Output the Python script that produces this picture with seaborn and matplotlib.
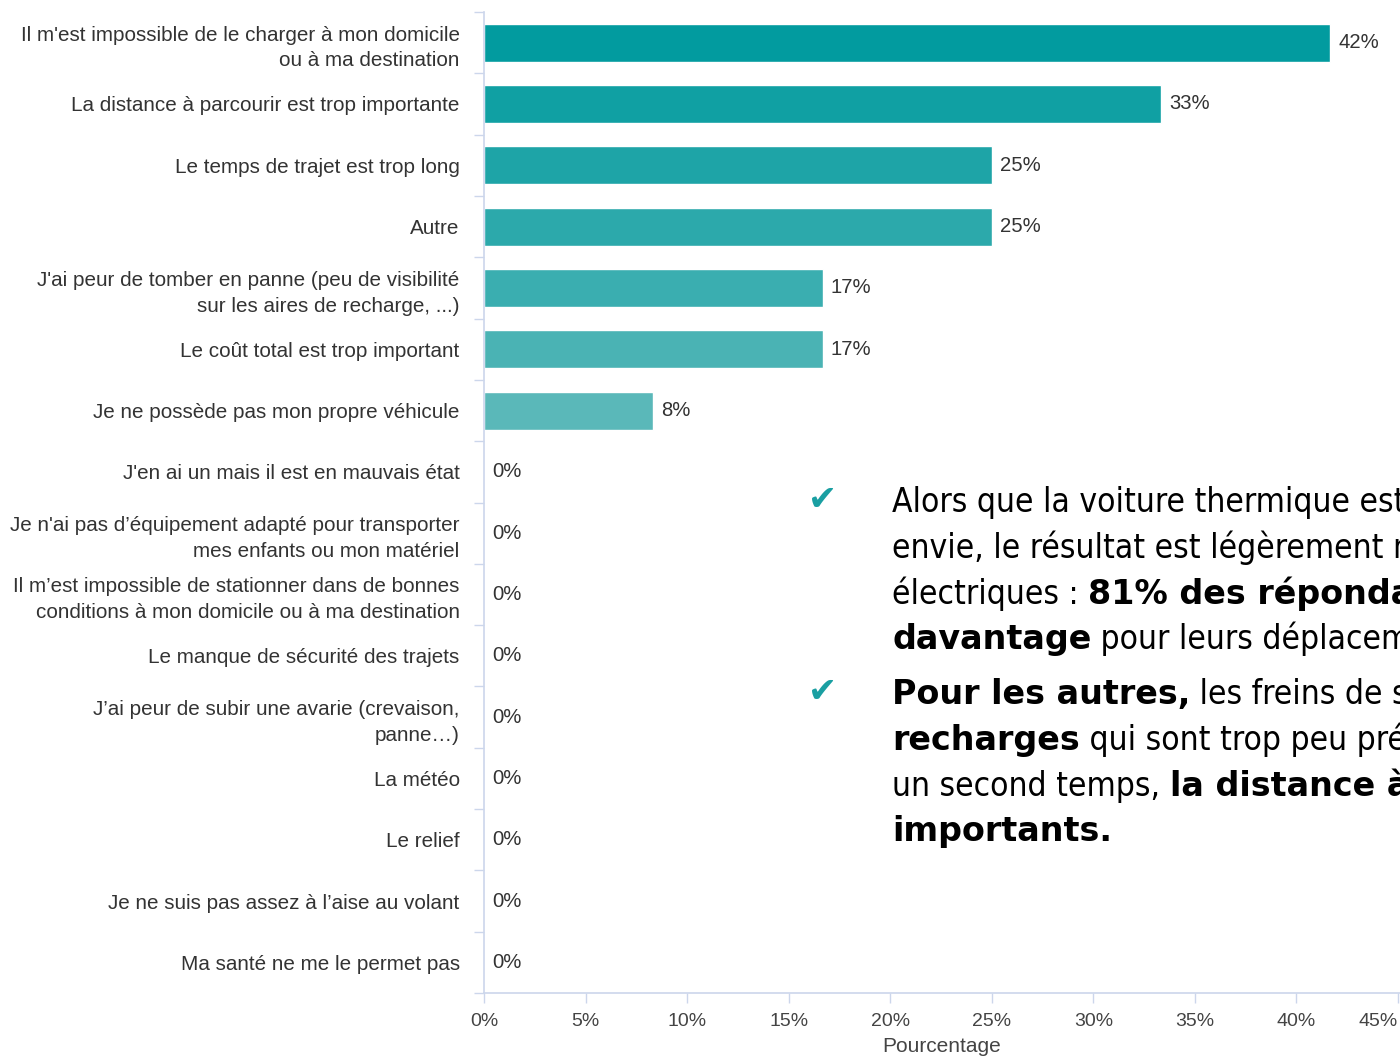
import numpy as np
import pandas as pd
import seaborn as sns
import matplotlib.pyplot as plt


categories = [
    "Il m'est impossible de le charger à mon domicile\nou à ma destination",
    "La distance à parcourir est trop importante",
    "Le temps de trajet est trop long",
    "Autre",
    "J'ai peur de tomber en panne (peu de visibilité\nsur les aires de recharge, ...)",
    "Le coût total est trop important",
    "Je ne possède pas mon propre véhicule",
    "J'en ai un mais il est en mauvais état",
    "Je n'ai pas d’équipement adapté pour transporter\nmes enfants ou mon matériel",
    "Il m’est impossible de stationner dans de bonnes\nconditions à mon domicile ou à ma destination",
    "Le manque de sécurité des trajets",
    "J’ai peur de subir une avarie (crevaison,\npanne…)",
    "La météo",
    "Le relief",
    "Je ne suis pas assez à l’aise au volant",
    "Ma santé ne me le permet pas",
]
values = [41.67, 33.33, 25.0, 25.0, 16.67, 16.67, 8.33, 0, 0, 0, 0, 0, 0, 0, 0, 0]
bar_colors = ["#029b9f", "#10a0a3", "#1ea4a7", "#2ca9ab", "#3aaeb0", "#4ab3b4",
              "#5ab8b9"] + ["#5ab8b9"] * 9
x_ticks = [0, 5, 10, 15, 20, 25, 30, 35, 40, 45]

text_lines = [
    [("Alors que la voiture thermique est utilisée par", "normal")],
    [("envie, le résultat est légèrement mitigé pour les", "normal")],
    [("électriques : ", "normal"), ("81% des répondants l'utiliseraient", "bold")],
    [("davantage", "bold"), (" pour leurs déplacements.", "normal")],
    [("Pour les autres,", "bold"), (" les freins de situation sont les", "normal")],
    [("recharges", "bold"), (" qui sont trop peu présentes et, dans", "normal")],
    [("un second temps, ", "normal"), ("la distance à parcourir et le temps", "bold")],
    [("importants.", "bold")],
]
line_y = [500, 546, 592, 637, 692, 738, 784, 829]
check_y = [500, 692]

W, H = 1400, 1061
sns.set_theme(style="white")
plt.rcParams["font.family"] = ["Liberation Sans", "DejaVu Sans"]

fig = plt.figure(figsize=(W / 100, H / 100), dpi=100)
ax = fig.add_axes([484 / W, 68 / H, 916 / W, 981 / H])

df = pd.DataFrame({"cat": categories, "val": values})
sns.barplot(data=df, x="val", y="cat", hue="cat", palette=bar_colors,
            legend=False, orient="h", width=0.62, ax=ax, saturation=1)

ax.set_xlim(0, 45.1)
ax.set_ylim(15.47, -0.49)

axis_col = "#ccd6eb"
for s in ["top", "right"]:
    ax.spines[s].set_visible(False)
for s in ["left", "bottom"]:
    ax.spines[s].set_color(axis_col)
    ax.spines[s].set_linewidth(1.2)

ax.set_xticks(x_ticks)
ax.set_xticklabels([f"{t}%" for t in x_ticks])
ax.tick_params(axis="x", length=7.5, width=1, color=axis_col, labelsize=14,
               pad=7, bottom=True)
ax.get_xticklabels()[-1].set_horizontalalignment("right")
for lab in ax.get_xticklabels():
    lab.set_color("#444444")

ax.set_yticks(range(len(categories)))
ax.set_yticklabels(categories, fontsize=14.9, color="#333333", linespacing=1.45)
ax.set_yticks(np.arange(-0.5, len(categories), 1), minor=True)
ax.tick_params(axis="y", which="major", length=0, pad=17.5, left=True)
ax.tick_params(axis="y", which="minor", length=7.5, width=1, color=axis_col,
               left=True)

ax.set_xlabel("Pourcentage", fontsize=15, color="#444444", labelpad=5)
ax.set_ylabel("")

for i, v in enumerate(values):
    ax.annotate(f"{v:.0f}%", (v, i), xytext=(6, 0), textcoords="offset points",
                va="center", ha="left", fontsize=14.6, color="#333333")

# overlay commentary
renderer = fig.canvas.get_renderer()
for y, parts in zip(line_y, text_lines):
    x = 892
    for s, w in parts:
        stretch = "condensed" if w == "normal" else "normal"
        t = fig.text(x / W, 1 - (y + 12) / H, s, fontsize=24, fontweight=w,
                     family=["DejaVu Sans"], color="black", va="baseline",
                     ha="left", fontstretch=stretch)
        x += t.get_window_extent(renderer=renderer).width
for y in check_y:
    fig.text(823 / W, 1 - y / H, "\u2714", fontsize=25, color="#1a9fa2",
             family=["DejaVu Sans"], va="center", ha="center")

fig.savefig("out.png", dpi=100)
